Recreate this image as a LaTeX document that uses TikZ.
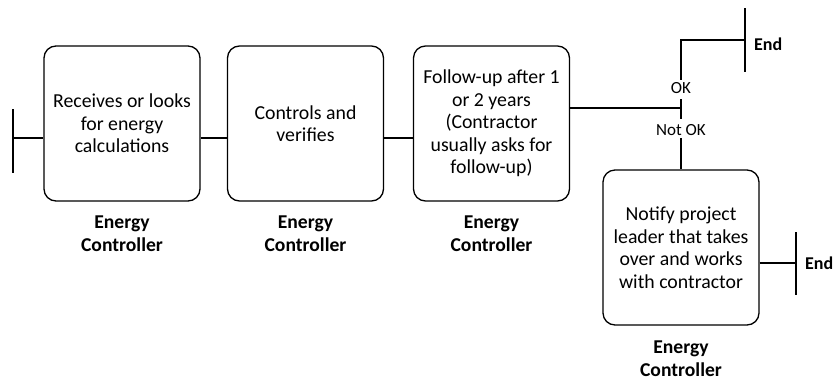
\documentclass[tikz,border=0pt]{standalone}
\usepackage{fontspec}
\setmainfont{Carlito}
\begin{document}
\begin{tikzpicture}[x=1pt,y=-1pt,
  stepbox/.style={draw, line width=1.3pt, rounded corners=12pt,
    minimum width=156pt, minimum height=155pt, align=center, inner sep=0pt,
    font=\fontsize{19.8}{22.5}\selectfont},
  role/.style={align=center, font=\bfseries\fontsize{19.6}{23}\selectfont},
  branch/.style={inner sep=2.5pt, font=\fontsize{17}{19}\selectfont},
  endtext/.style={anchor=west, inner sep=0pt, font=\bfseries\fontsize{18}{21}\selectfont},
  wire/.style={line width=1.3pt}]
\useasboundingbox (0,0) rectangle (837,381);

% process steps
\node[stepbox] (b1) at (122,123.5) {Receives or looks\\for energy\\calculations};
\node[stepbox] (b2) at (305.5,123.5) {Controls and\\verifies};
\node[stepbox] (b3) at (491.5,123.5) {Follow-up after 1\\or 2 years\\(Contractor\\usually asks for\\follow-up)};
\node[stepbox] (b4) at (681,247.5) {Notify project\\leader that takes\\over and works\\with contractor};

% roles
\node[role] (r1) at (122,234) {Energy\\Controller};
\node[role] (r2) at (305.5,234) {Energy\\Controller};
\node[role] (r3) at (491.5,234) {Energy\\Controller};
\node[role] (r4) at (681,359) {Energy\\Controller};

% start
\coordinate (s) at (13,138);
\draw[wire] (13,109) -- (13,173);
\draw[wire] (s) -- (s -| b1.west);
\draw[wire] (s -| b1.east) -- (s -| b2.west);
\draw[wire] (s -| b2.east) -- (s -| b3.west);

% decision
\coordinate (j) at (681,108);
\draw[wire] (j -| b3.east) -- (j);
\draw[wire] (681,99) -- (681,119);
\node[branch] (ok) at (681,88) {OK};
\node[branch] (nok) at (681,130) {Not OK};

% OK branch to end
\coordinate (e1) at (745,40);
\draw[wire] (ok.north) -- (ok.north |- e1) -- (e1);
\draw[wire] (745,8) -- (745,72);
\node[endtext] (end1) at (754,44) {End};

% not OK branch
\draw[wire] (nok.south) -- (b4.north);
\coordinate (e2) at (796,263);
\draw[wire] (e2 -| b4.east) -- (e2);
\draw[wire] (796,232) -- (796,295);
\node[endtext] (end2) at (805,263) {End};
\end{tikzpicture}
\end{document}
